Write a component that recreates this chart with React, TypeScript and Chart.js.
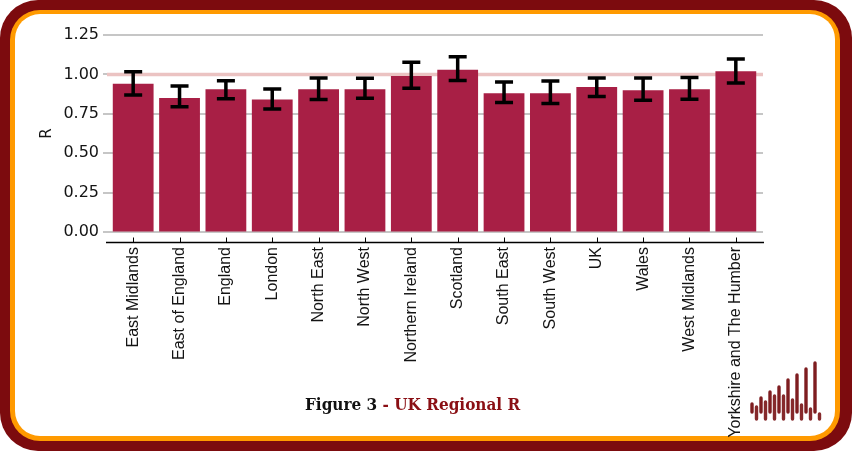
import React, { useEffect, useRef } from "react";
import { Chart, registerables } from "chart.js";

Chart.register(...registerables);

const categories = [
  "East Midlands",
  "East of England",
  "England",
  "London",
  "North East",
  "North West",
  "Northern Ireland",
  "Scotland",
  "South East",
  "South West",
  "UK",
  "Wales",
  "West Midlands",
  "Yorkshire and The Humber",
];
const rValues = [0.94, 0.85, 0.905, 0.84, 0.905, 0.905, 0.99, 1.03, 0.88, 0.88, 0.92, 0.9, 0.905, 1.02];
const rLower = [0.87, 0.795, 0.845, 0.78, 0.84, 0.848, 0.912, 0.962, 0.821, 0.816, 0.859, 0.836, 0.842, 0.945];
const rUpper = [1.017, 0.926, 0.96, 0.907, 0.977, 0.975, 1.077, 1.112, 0.952, 0.958, 0.977, 0.977, 0.981, 1.098];
const yTickValues = [0, 0.25, 0.5, 0.75, 1.0, 1.25];
const referenceR = 1.0;

// decorative logo (bottom right)
const logoTall = [8, 14, 20, 25, 32, 37, 43, 49];
const logoShort = [12, 17, 23, 23, 19, 14, 10, 5];

const BAR_COLOR = "#a81f45";

const decorPlugin = {
  id: "decor",
  beforeDatasetsDraw(chart: any) {
    const { ctx, chartArea, scales } = chart;
    const y = scales.y;
    const gl = chartArea.left - 3;
    const gr = chartArea.right + 4;
    ctx.save();
    ctx.lineCap = "butt";
    ctx.strokeStyle = "#c6c6c6";
    ctx.lineWidth = 2;
    yTickValues.forEach((v) => {
      const py = Math.round(y.getPixelForValue(v));
      ctx.beginPath();
      ctx.moveTo(gl - 4, py);
      ctx.lineTo(gr, py);
      ctx.stroke();
    });
    ctx.strokeStyle = "#ebc3c2";
    ctx.lineWidth = 3.5;
    const pr = y.getPixelForValue(referenceR);
    ctx.beginPath();
    ctx.moveTo(gl, pr);
    ctx.lineTo(gr, pr);
    ctx.stroke();
    ctx.restore();
  },
  afterDatasetsDraw(chart: any) {
    const { ctx, chartArea, scales } = chart;
    const x = scales.x;
    const y = scales.y;
    ctx.save();
    ctx.strokeStyle = "#000";
    ctx.lineWidth = 3.5;
    ctx.lineCap = "butt";
    categories.forEach((_, i) => {
      const px = x.getPixelForValue(i);
      const top = y.getPixelForValue(rUpper[i]);
      const bot = y.getPixelForValue(rLower[i]);
      const hw = 9;
      ctx.beginPath();
      ctx.moveTo(px, top);
      ctx.lineTo(px, bot);
      ctx.moveTo(px - hw, top);
      ctx.lineTo(px + hw, top);
      ctx.moveTo(px - hw, bot);
      ctx.lineTo(px + hw, bot);
      ctx.stroke();
    });
    // x axis line and inward ticks
    const ay = chartArea.bottom + 0.5;
    ctx.lineWidth = 1.3;
    ctx.beginPath();
    ctx.moveTo(chartArea.left - 4, ay);
    ctx.lineTo(chartArea.right + 5, ay);
    ctx.stroke();
    ctx.lineWidth = 1;
    categories.forEach((_, i) => {
      const px = Math.round(x.getPixelForValue(i)) + 0.5;
      ctx.beginPath();
      ctx.moveTo(px, ay - 5);
      ctx.lineTo(px, ay);
      ctx.stroke();
    });
    ctx.restore();
  },
};

export default function App() {
  const canvasRef = useRef<HTMLCanvasElement | null>(null);

  useEffect(() => {
    if (!canvasRef.current) return;
    const chart = new Chart(canvasRef.current, {
      type: "bar",
      data: {
        labels: categories,
        datasets: [
          {
            label: "R",
            data: rValues,
            backgroundColor: BAR_COLOR,
            borderWidth: 0,
            categoryPercentage: 1,
            barPercentage: 0.88,
          },
        ],
      },
      options: {
        responsive: false,
        animation: false,
        devicePixelRatio: 1,
        layout: { padding: { left: 0, top: 25, right: 93, bottom: 0 } },
        plugins: {
          legend: { display: false },
          tooltip: { enabled: false },
        },
        scales: {
          x: {
            type: "category",
            offset: true,
            border: { display: false },
            grid: { display: true, drawOnChartArea: false, drawTicks: false, color: "rgba(0,0,0,0)" },
            ticks: {
              autoSkip: false,
              minRotation: 90,
              maxRotation: 90,
              padding: 5,
              color: "#141414",
              font: { family: "'Liberation Sans', Arial, sans-serif", size: 16 },
            },
            afterFit(scale: any) {
              scale.height = 209;
            },
          },
          y: {
            type: "linear",
            min: -0.0635,
            max: 1.3134,
            border: { display: false },
            grid: { display: true, drawOnChartArea: false, drawTicks: true, tickLength: 8, color: "rgba(0,0,0,0)" },
            afterBuildTicks(scale: any) {
              scale.ticks = yTickValues.map((v) => ({ value: v }));
            },
            ticks: {
              padding: 3,
              color: "#141414",
              font: { family: "'DejaVu Sans', sans-serif", size: 16 },
              callback: (v: any) => Number(v).toFixed(2),
            },
            title: {
              display: true,
              text: "R",
              color: "#141414",
              font: { family: "'DejaVu Sans', sans-serif", size: 15 },
              padding: { top: 38, bottom: 0 },
            },
            afterFit(scale: any) {
              scale.width = 110;
            },
          },
        },
      },
      plugins: [decorPlugin],
    } as any);
    return () => chart.destroy();
  }, []);

  const logoLines: React.ReactNode[] = [];
  logoTall.forEach((h, i) => {
    const cx = 752 + i * 9;
    logoLines.push(
      <line key={"t" + i} x1={cx} y1={412} x2={cx} y2={412 - h} stroke="#7e1d20" strokeWidth={3.4} strokeLinecap="round" />
    );
  });
  logoShort.forEach((h, i) => {
    const cx = 756.5 + i * 9;
    logoLines.push(
      <line key={"s" + i} x1={cx} y1={419} x2={cx} y2={419 - h} stroke="#862a2c" strokeWidth={3.4} strokeLinecap="round" />
    );
  });

  return (
    <div style={{ position: "absolute", left: 0, top: 0, width: 852, height: 451, background: "#fff", overflow: "hidden" }}>
      <div style={{ position: "absolute", left: 0, top: 0, width: 852, height: 451, background: "#7c0b0e", borderRadius: 38 }} />
      <div style={{ position: "absolute", left: 10, top: 10, width: 830, height: 431, background: "#ff9a00", borderRadius: 30 }} />
      <div style={{ position: "absolute", left: 15, top: 14, width: 820, height: 422, background: "#ffffff", borderRadius: 25 }} />
      <canvas ref={canvasRef} width={852} height={451} style={{ position: "absolute", left: 0, top: 0, width: 852, height: 451 }} />
      <div
        style={{
          position: "absolute",
          left: 305,
          top: 392,
          fontFamily: "'DejaVu Serif Condensed', 'DejaVu Serif', serif",
          fontWeight: 700,
          fontSize: 17,
          whiteSpace: "nowrap",
          color: "#111",
          lineHeight: "24px",
        }}
      >
        Figure 3 <span style={{ color: "#8a0f14" }}>- UK Regional R</span>
      </div>
      <svg width={852} height={451} style={{ position: "absolute", left: 0, top: 0 }}>
        {logoLines}
      </svg>
    </div>
  );
}
